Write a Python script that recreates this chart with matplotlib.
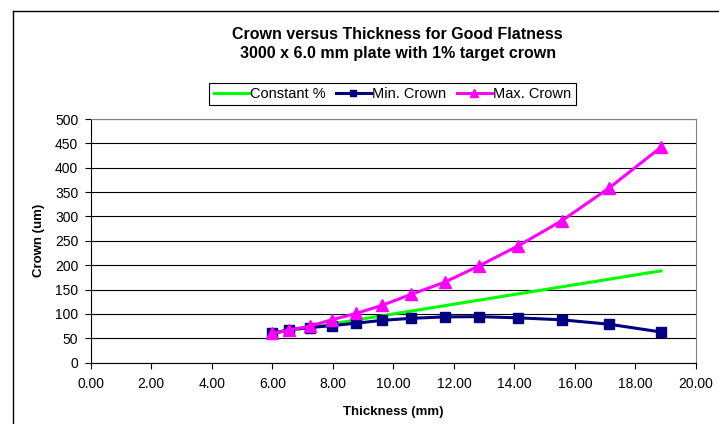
import matplotlib.pyplot as plt
from matplotlib.lines import Line2D

plt.rcParams["font.family"] = ["Liberation Sans", "DejaVu Sans"]

# plate thickness (mm) and crown values (um)
thickness = [6.0, 6.56, 7.23, 7.96, 8.77, 9.64, 10.58, 11.69, 12.84, 14.13, 15.56, 17.12, 18.84]
constant_pct = [60, 65.6, 72.3, 79.6, 87.7, 96.4, 105.8, 116.9, 128.4, 141.3, 155.6, 171.2, 188.4]
min_crown = [60, 68, 72, 76, 81, 87, 91, 94, 94.5, 92, 88, 79, 63]
max_crown = [60, 67, 75, 88, 101, 118, 140, 165, 199, 240, 291, 358, 442]

fig = plt.figure(figsize=(7.19, 4.24), dpi=100)
ax = fig.add_axes([0.1262, 0.1446, 0.8418, 0.5747])

ax.plot(thickness, constant_pct, color="#00ff00", lw=2.2, label="Constant %")
ax.plot(thickness, min_crown, color="#000080", lw=2.2, marker="s", ms=7.5,
        label="Min. Crown")
ax.plot(thickness, max_crown, color="#ff00ff", lw=2.2, marker="^", ms=9,
        label="Max. Crown")

ax.set_xlim(0, 20)
ax.set_ylim(0, 500)
ax.set_xticks(range(0, 21, 2))
ax.set_xticklabels([f"{v:.2f}" for v in range(0, 21, 2)])
ax.set_yticks(range(0, 501, 50))
ax.yaxis.grid(True, color="black", lw=0.8)
ax.set_axisbelow(True)
ax.tick_params(labelsize=10, length=4, width=0.8, direction="out")
ax.tick_params(axis="x", pad=6)
ax.tick_params(axis="y", pad=5)

for side in ("top", "right"):
    ax.spines[side].set_color("#808080")
for side in ("left", "bottom"):
    ax.spines[side].set_color("black")

ax.set_xlabel("Thickness (mm)", fontsize=9.5, fontweight="bold", labelpad=11)
ax.set_ylabel("Crown (um)", fontsize=9.5, fontweight="bold", labelpad=7)

fig.text(0.553, 0.896, "Crown versus Thickness for Good Flatness\n3000 x 6.0 mm plate with 1% target crown",
         ha="center", va="center", fontsize=11.5, fontweight="bold", linespacing=1.3)

leg = ax.legend(loc="center", bbox_to_anchor=(0.4986, 1.1026), ncol=3, fontsize=10.5,
                frameon=True, fancybox=False, framealpha=1, edgecolor="black",
                handlelength=2.4, handletextpad=0.1, columnspacing=0.7,
                markerscale=0.6, borderpad=0.3, borderaxespad=0)
leg.get_frame().set_linewidth(0.8)

# outer chart frame
fig.add_artist(Line2D([12.5 / 719, 12.5 / 719], [0, 1 - 10.5 / 424],
                      color="black", lw=1, transform=fig.transFigure))
fig.add_artist(Line2D([12.5 / 719, 1], [1 - 10.5 / 424, 1 - 10.5 / 424],
                      color="black", lw=1, transform=fig.transFigure))

fig.savefig("out.png", dpi=100)
